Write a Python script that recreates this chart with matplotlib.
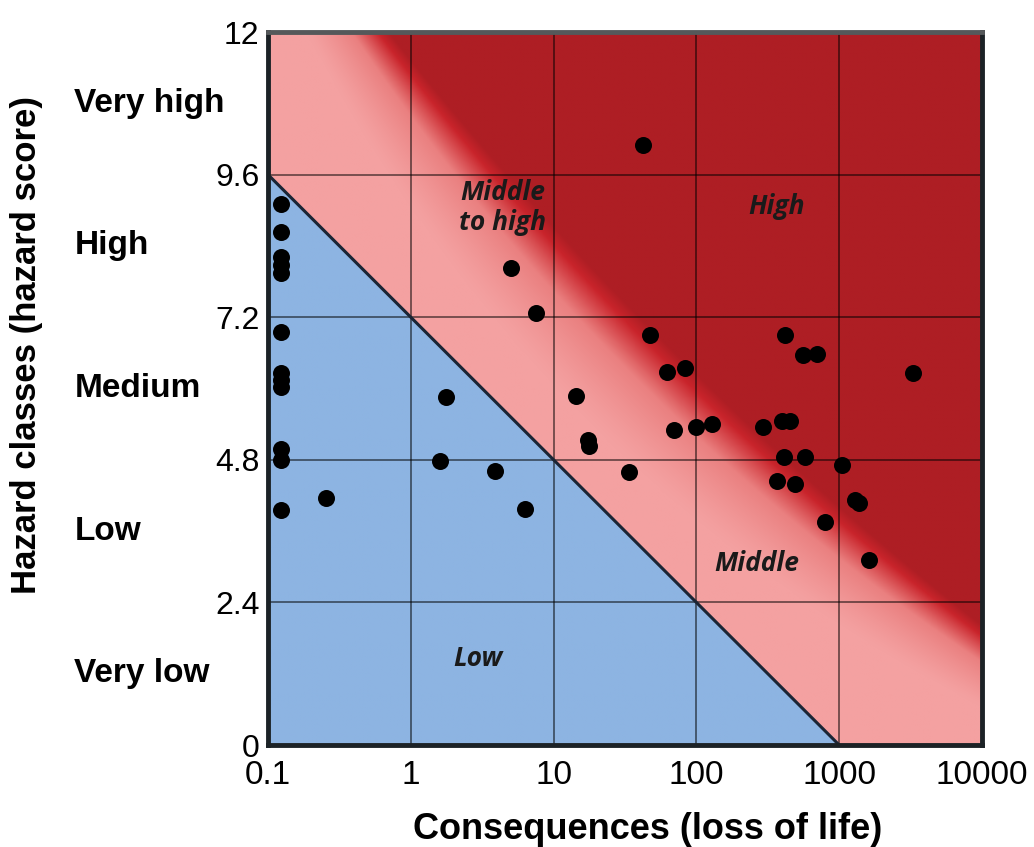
import matplotlib
matplotlib.use("Agg")
import matplotlib.pyplot as plt
import numpy as np
from matplotlib.colors import LinearSegmentedColormap, to_rgb
from matplotlib.transforms import blended_transform_factory

# data
loss_of_life = [0.123, 0.123, 0.123, 0.123, 0.123, 0.123, 0.123, 0.123, 0.123,
                0.123, 0.123, 0.123, 0.255,
                1.6, 1.76, 3.9, 5.0, 6.3, 7.5,
                14.4, 17.4, 17.8, 34, 42, 47, 62, 70, 83, 100, 129,
                295, 365, 400, 410, 417, 450, 490, 560, 580, 700, 790,
                1050, 1290, 1370, 1630, 3290]
hazard_score = [9.10, 8.63, 8.21, 8.08, 7.94, 6.95, 6.26, 6.14, 6.02,
                4.98, 4.80, 3.95, 4.16,
                4.78, 5.86, 4.61, 8.03, 3.97, 7.27,
                5.87, 5.13, 5.03, 4.60, 10.10, 6.90, 6.28, 5.30, 6.34, 5.35, 5.40,
                5.35, 4.44, 5.45, 4.85, 6.90, 5.45, 4.39, 6.56, 4.85, 6.58, 3.75,
                4.71, 4.12, 4.07, 3.11, 6.26]

x_ticks = [0.1, 1, 10, 100, 1000, 10000]
x_tick_labels = ["0.1", "1", "10", "100", "1000", "10000"]
y_ticks = [0, 2.4, 4.8, 7.2, 9.6, 12]
y_tick_labels = ["0", "2.4", "4.8", "7.2", "9.6", "12"]
class_names = ["Very low", "Low", "Medium", "High", "Very high"]
class_centres = [1.2, 3.6, 6.0, 8.4, 10.8]

zone_names = ["Low", "Middle", "Middle\nto high", "High"]
zone_x = [2.95, 266, 4.4, 366]
zone_y = [1.46, 3.06, 9.05, 9.07]

# low zone boundary: from (0.1, 9.6) to (1000, 0)
low_line_x = [0.1, 1000]
low_line_y = [9.6, 0]

blue = "#8db4e2"
pink = "#f4a1a1"

fig = plt.figure(figsize=(10.34, 8.47), dpi=100)
ax = fig.add_axes([0.2592, 0.1204, 0.6905, 0.8418])
ax.set_xscale("log")
ax.set_xlim(0.1, 10000)
ax.set_ylim(0, 12)

# background in axes fraction: blue below the line u+v=0.8,
# pink -> red band around u+v ~ 1.1 (wider / further left in the middle)
n = 700
u, v = np.meshgrid(np.linspace(0, 1, n), np.linspace(0, 1, n))
s = u + v
p = u - v
start = 1.07 - 0.17 * (1 - p ** 2)
end = 1.19 - 0.07 * (1 - p ** 2)
t = np.clip((s - start) / (end - start), 0, 1) ** 1.3
red_cmap = LinearSegmentedColormap.from_list(
    "pinkred", [(0, pink), (0.5, "#ea8080"), (0.85, "#c9242b"), (1.0, "#ae1e24")])
img = red_cmap(t)[:, :, :3]
img[s < 0.8] = to_rgb(blue)
ax.imshow(img, extent=[0, 1, 0, 1], origin="lower", transform=ax.transAxes,
          aspect="auto", zorder=0, interpolation="bilinear")

ax.plot(low_line_x, low_line_y, color="#1b2535", lw=2.2, zorder=2)

for xv in x_ticks[1:-1]:
    ax.axvline(xv, color="black", alpha=0.55, lw=1.3, zorder=1)
for yv in y_ticks[1:-1]:
    ax.axhline(yv, color="black", alpha=0.55, lw=1.3, zorder=1)

ax.scatter(loss_of_life, hazard_score, s=150, color="black", zorder=3, lw=0)

for name, xv, yv in zip(zone_names, zone_x, zone_y):
    ax.text(xv, yv, name, ha="center", va="center", fontsize=19,
            fontstyle="italic", fontweight="bold", color="#1a1a1a",
            family=["Open Sans", "DejaVu Sans"], linespacing=1.15, zorder=4)

ax.set_xticks(x_ticks)
ax.set_xticklabels(x_tick_labels, fontsize=24, family="Liberation Sans")
ax.minorticks_off()
ax.set_yticks(y_ticks)
ax.set_yticklabels(y_tick_labels, fontsize=23, family="Liberation Sans")
ax.tick_params(length=0, pad=6)
ax.tick_params(axis="x", pad=11)

for side in ["left", "right", "bottom"]:
    ax.spines[side].set_linewidth(3.5)
    ax.spines[side].set_color("#1c2226")
ax.spines["top"].set_linewidth(3.5)
ax.spines["top"].set_color("#55585a")

tr = blended_transform_factory(fig.transFigure, ax.transData)
for name, yv in zip(class_names, class_centres):
    ax.text(0.072, yv, name, transform=tr, ha="left", va="center",
            fontsize=24, fontweight="bold", family="Liberation Sans")

fig.text(0.026, 0.593, "Hazard classes (hazard score)", rotation=90,
         ha="center", va="center", fontsize=25, fontweight="bold",
         family="Liberation Sans")
fig.text(0.626, 0.021, "Consequences (loss of life)", ha="center", va="center",
         fontsize=26, fontweight="bold", family="Liberation Sans")

fig.savefig("out.png", dpi=100)
